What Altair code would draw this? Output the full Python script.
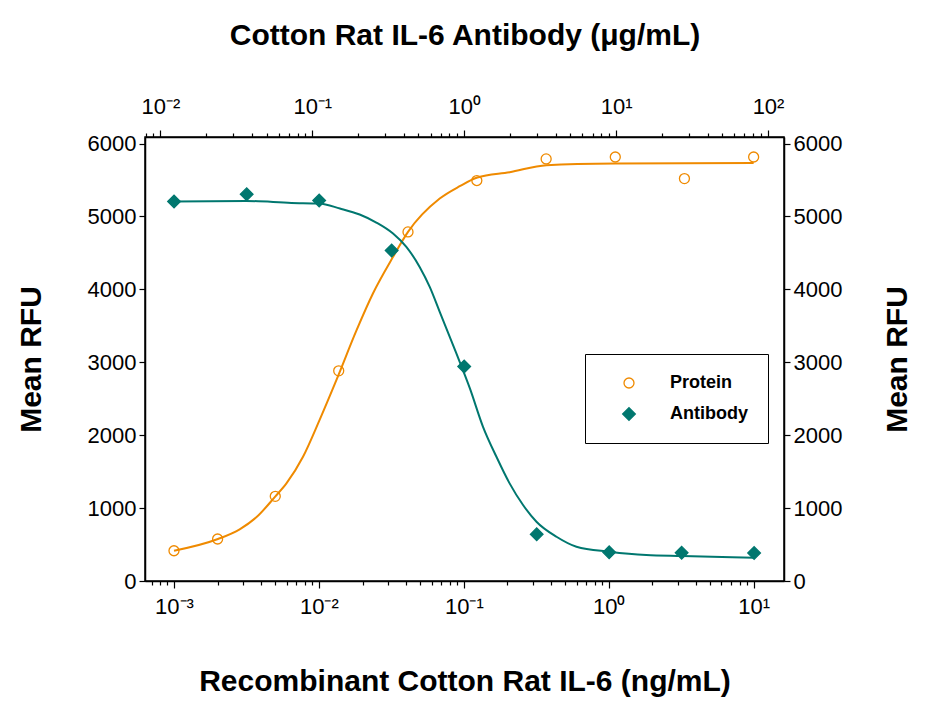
import altair as alt
import pandas as pd

# measured points, read off the figure
# recombinant cotton rat IL-6 (ng/mL, bottom axis)
protein_conc = [0.001, 0.002, 0.005, 0.0137, 0.0412, 0.123, 0.370, 1.11, 3.33, 10.0]
protein_rfu = [415, 576, 1161, 2883, 4788, 5493, 5789, 5816, 5520, 5816]

# anti-IL-6 antibody (ug/mL, top axis)
antibody_conc = [0.0123, 0.037, 0.111, 0.333, 1.0, 3.0, 9.0, 27.0, 81.0]
antibody_rfu = [5205, 5305, 5219, 4533, 2943, 640, 393, 388, 384]

# fitted curves
protein_fit_conc = [0.001, 0.00201, 0.00284, 0.0037, 0.00501, 0.00597, 0.00777, 0.0101,
                    0.0132, 0.0182, 0.0236, 0.0325, 0.0412, 0.0682, 0.0937, 0.124,
                    0.207, 0.372, 1.12, 10.0]
protein_fit_rfu = [415, 576, 709, 873, 1161, 1339, 1704, 2207,
                   2755, 3441, 3944, 4446, 4788, 5246, 5415, 5534,
                   5607, 5703, 5726, 5734]

antibody_fit_conc = [0.0123, 0.0368, 0.0729, 0.111, 0.152, 0.205, 0.264, 0.340, 0.416,
                     0.509, 0.593, 0.690, 0.888, 1.09, 1.33, 1.63, 1.99, 2.44, 2.99,
                     4.05, 5.48, 9.04, 15.8, 27.2, 81.0]
antibody_fit_rfu = [5205, 5213, 5186, 5177, 5109, 5027, 4917, 4766, 4583,
                    4308, 4034, 3692, 3121, 2642, 2115, 1704, 1339, 1042, 813,
                    607, 470, 402, 356, 343, 319]

series = ["Protein", "Antibody"]

FONT = "Liberation Sans, Arial, sans-serif"
ORANGE = "#EF8A00"
TEAL = "#00776F"

BOTTOM_DOMAIN = [0.000631, 16.2]
TOP_DOMAIN = [0.00792, 127.4]
Y_DOMAIN = [0, 6090]


def log_ticks(lo, hi):
    vals = []
    for e in range(-5, 4):
        for m in range(1, 10):
            v = float(f"{m}e{e}")
            if lo <= v <= hi:
                vals.append(v)
    return vals


EXP = "round(log(datum.value) / LN10)"
IS_MAJOR = f"abs(log(datum.value) / LN10 - {EXP}) < 1e-6"
SUP = (f"(abs({EXP}) == 0 ? '\u2070' : abs({EXP}) == 1 ? '\u00b9' : "
       f"abs({EXP}) == 2 ? '\u00b2' : '\u00b3')")
LABEL_EXPR = f"{IS_MAJOR} ? '10' + ({EXP} < 0 ? '\u207b' : '') + {SUP} : ''"


def log_axis(orient, title, domain, label_padding, title_padding):
    return alt.Axis(
        orient=orient,
        title=title,
        values=log_ticks(*domain),
        labelExpr=LABEL_EXPR,
        labelOverlap=False,
        labelFlush=False,
        labelPadding=label_padding,
        titlePadding=title_padding,
        tickSize={"condition": {"test": IS_MAJOR, "value": 7}, "value": 4},
    )


def y_axis(orient):
    extra = {"titleAngle": 270, "titleBaseline": "top"} if orient == "right" else {}
    return alt.Axis(
        orient=orient,
        title="Mean RFU",
        values=[0, 1000, 2000, 3000, 4000, 5000, 6000],
        format="d",
        tickSize=6,
        labelPadding=3,
        titlePadding=41,
        **extra,
    )


legend = alt.Legend(title=None, orient="none", legendX=440, legendY=217)


def point_channels():
    return dict(
        shape=alt.Shape("series:N", scale=alt.Scale(domain=series, range=["circle", "diamond"]), legend=legend),
        stroke=alt.Stroke("series:N", scale=alt.Scale(domain=series, range=[ORANGE, TEAL]), legend=legend),
        fill=alt.Fill("series:N", scale=alt.Scale(domain=series, range=["transparent", TEAL]), legend=legend),
        size=alt.Size("series:N", scale=alt.Scale(domain=series, range=[100, 160]), legend=legend),
    )


def panel(pts, fit, color, x_axis, x_domain, y_orient):
    x = alt.X("conc:Q", scale=alt.Scale(type="log", domain=x_domain, nice=False), axis=x_axis)
    y = alt.Y("rfu:Q", scale=alt.Scale(domain=Y_DOMAIN, nice=False, zero=False), axis=y_axis(y_orient))
    line = alt.Chart(fit).mark_line(color=color, strokeWidth=2, interpolate="monotone").encode(x=x, y=y)
    dots = alt.Chart(pts).mark_point(strokeWidth=1.3, opacity=1).encode(x=x, y=y, **point_channels())
    return alt.layer(line, dots)


protein_pts = pd.DataFrame({"conc": protein_conc, "rfu": protein_rfu, "series": "Protein"})
antibody_pts = pd.DataFrame({"conc": antibody_conc, "rfu": antibody_rfu, "series": "Antibody"})
protein_fit = pd.DataFrame({"conc": protein_fit_conc, "rfu": protein_fit_rfu})
antibody_fit = pd.DataFrame({"conc": antibody_fit_conc, "rfu": antibody_fit_rfu})

protein = panel(
    protein_pts, protein_fit, ORANGE,
    log_axis("bottom", "Recombinant Cotton Rat IL-6 (ng/mL)", BOTTOM_DOMAIN, 8, 49),
    BOTTOM_DOMAIN, "left",
)
antibody = panel(
    antibody_pts, antibody_fit, TEAL,
    log_axis("top", "Cotton Rat IL-6 Antibody (\u03bcg/mL)", TOP_DOMAIN, 12, 45),
    TOP_DOMAIN, "right",
)

chart = alt.layer(protein, antibody).resolve_scale(
    x="independent", y="independent"
).resolve_axis(
    x="independent", y="independent"
).properties(
    width=639,
    height=444,
    autosize=alt.AutoSizeParams(type="none"),
    padding={"left": 137, "top": 129, "right": 137, "bottom": 116},
).configure_view(
    stroke="black", strokeWidth=1.5
).configure_axis(
    grid=False,
    domainColor="black",
    domainWidth=1.5,
    tickColor="black",
    tickWidth=1.2,
    labelFont=FONT,
    labelFontSize=22,
    labelColor="black",
    titleFont=FONT,
    titleFontSize=30,
    titleFontWeight="bold",
    titleColor="black",
).configure_legend(
    strokeColor="black",
    fillColor="white",
    padding=20,
    symbolOffset=15,
    labelOffset=32,
    rowPadding=13,
    labelFont=FONT,
    labelFontSize=18,
    labelFontWeight="bold",
    labelColor="black",
    symbolStrokeWidth=1.3,
    cornerRadius=0,
)

chart.save("out.html", embed_options={"renderer": "svg", "actions": False})
